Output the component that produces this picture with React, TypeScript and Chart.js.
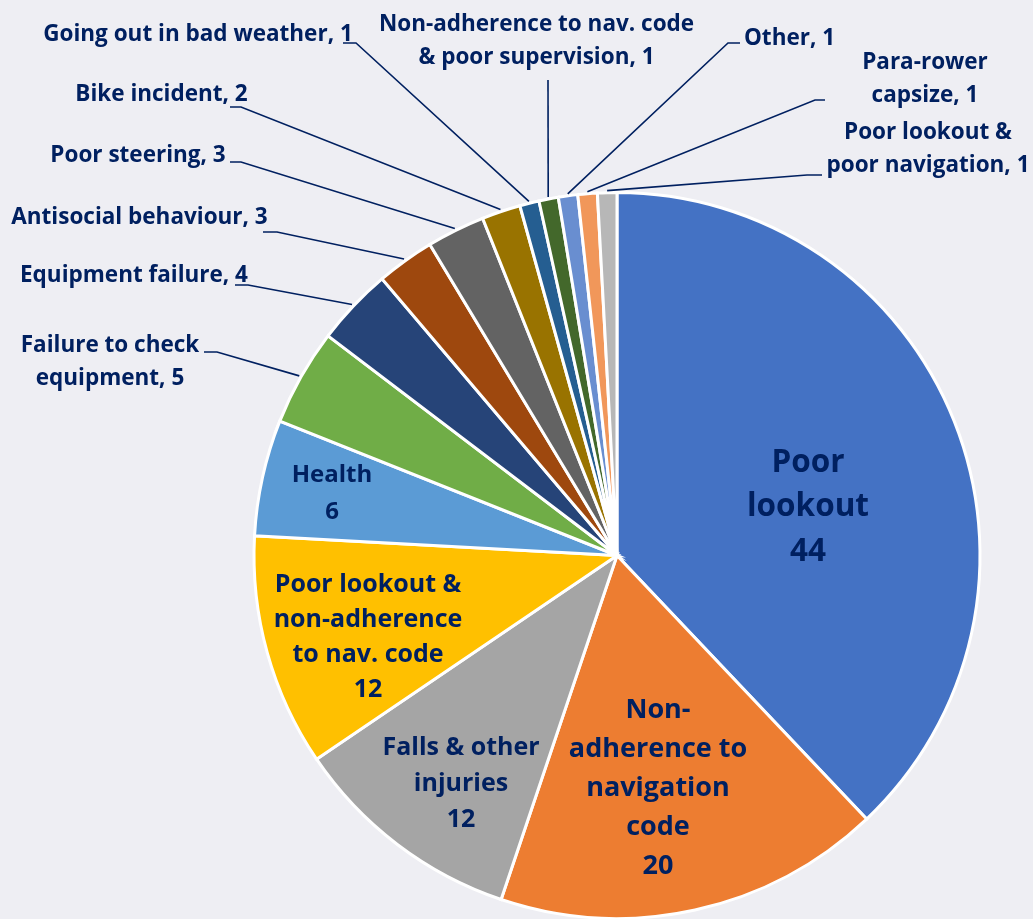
import React, { useEffect, useRef } from "react";
import { Chart, registerables } from "chart.js";

Chart.register(...registerables);

const categories = [
  "Poor lookout",
  "Non-adherence to navigation code",
  "Falls & other injuries",
  "Poor lookout & non-adherence to nav. code",
  "Health",
  "Failure to check equipment",
  "Equipment failure",
  "Antisocial behaviour",
  "Poor steering",
  "Bike incident",
  "Going out in bad weather",
  "Non-adherence to nav. code & poor supervision",
  "Other",
  "Para-rower capsize",
  "Poor lookout & poor navigation",
];

const incidents = [44, 20, 12, 12, 6, 5, 4, 3, 3, 2, 1, 1, 1, 1, 1];

const sliceColors = [
  "#4472C4",
  "#ED7D31",
  "#A5A5A5",
  "#FFC000",
  "#5B9BD5",
  "#70AD47",
  "#264478",
  "#9E480E",
  "#636363",
  "#997300",
  "#255E91",
  "#43682B",
  "#698ED0",
  "#F1975A",
  "#B7B7B7",
];

// Label text lines (value appended from data)
const insideLabelLines: Record<number, string[]> = {
  0: ["Poor", "lookout"],
  1: ["Non-", "adherence to", "navigation", "code"],
  2: ["Falls & other", "injuries"],
  3: ["Poor lookout &", "non-adherence", "to nav. code"],
  4: ["Health"],
};

const outsideLabelLines: Record<number, string[]> = {
  5: ["Failure to check", "equipment, "],
  6: ["Equipment failure, "],
  7: ["Antisocial behaviour, "],
  8: ["Poor steering, "],
  9: ["Bike incident, "],
  10: ["Going out in bad weather, "],
  11: ["Non-adherence to nav. code", "& poor supervision, "],
  12: ["Other, "],
  13: ["Para-rower", "capsize, "],
  14: ["Poor lookout &", "poor navigation, "],
};

// Layout (positions of label text relative to pie centre, font sizes)
const insideLayout: Record<number, { dx: number; dy: number; size: number; lh: number }> = {
  0: { dx: 191, dy: -50.5, size: 31.5, lh: 44.5 },
  1: { dx: 41, dy: 230, size: 27, lh: 39 },
  2: { dx: -156, dy: 226, size: 25, lh: 36 },
  3: { dx: -249, dy: 79, size: 25, lh: 35 },
  4: { dx: -285, dy: -64, size: 24, lh: 37 },
};

// absolute canvas positions for outside labels: text centre x, first line y, and the elbow of the leader line
const outsideLayout: Record<number, { x: number; y: number; near: [number, number]; far: [number, number] }> = {
  5: { x: 110, y: 343, near: [217, 352], far: [204, 352] },
  6: { x: 134, y: 273, near: [248, 285], far: [235, 285] },
  7: { x: 139.5, y: 215, near: [277, 232], far: [263, 232] },
  8: { x: 138, y: 153, near: [241, 162], far: [230, 162] },
  9: { x: 161.5, y: 92, near: [241, 107], far: [230, 107] },
  10: { x: 198, y: 32, near: [356, 43], far: [343, 43] },
  11: { x: 536.5, y: 22, near: [548, 80], far: [548, 80] },
  12: { x: 789.5, y: 36, near: [728, 43], far: [740, 43] },
  13: { x: 925, y: 60, near: [815, 100], far: [825, 100] },
  14: { x: 928, y: 130, near: [807, 175], far: [822, 175] },
};

const OUTSIDE_FONT = 22.5;
const OUTSIDE_LH = 33.5;
const TEXT_DY = 2.5;
const TEXT_COLOR = "#002060";
const FONT_FAMILY = "'Open Sans', Lato, sans-serif";

const labelPlugin = {
  id: "pieLabels",
  afterDatasetsDraw(chart: any) {
    const ctx = chart.ctx as CanvasRenderingContext2D;
    const meta = chart.getDatasetMeta(0);
    const data = chart.data.datasets[0].data as number[];
    ctx.save();
    ctx.fillStyle = TEXT_COLOR;
    ctx.strokeStyle = TEXT_COLOR;
    ctx.textAlign = "center";
    ctx.textBaseline = "middle";
    meta.data.forEach((arc: any, i: number) => {
      const p = arc.getProps(["x", "y", "startAngle", "endAngle", "outerRadius"], true);
      if (insideLabelLines[i]) {
        const lay = insideLayout[i];
        const lines = [...insideLabelLines[i], String(data[i])];
        ctx.font = `bold ${lay.size}px ${FONT_FAMILY}`;
        const cx = p.x + lay.dx;
        const cy = p.y + lay.dy + TEXT_DY;
        const top = cy - ((lines.length - 1) * lay.lh) / 2;
        lines.forEach((t, k) => ctx.fillText(t, cx, top + k * lay.lh));
      } else if (outsideLabelLines[i]) {
        const lay = outsideLayout[i];
        const src = outsideLabelLines[i];
        const lines = src.map((t, k) => (k === src.length - 1 ? t + String(data[i]) : t));
        ctx.font = `bold ${OUTSIDE_FONT}px ${FONT_FAMILY}`;
        lines.forEach((t, k) => ctx.fillText(t, lay.x, lay.y + TEXT_DY + k * OUTSIDE_LH));
        const mid = (p.startAngle + p.endAngle) / 2;
        const r = p.outerRadius + 2;
        const ex = p.x + Math.cos(mid) * r;
        const ey = p.y + Math.sin(mid) * r;
        ctx.lineWidth = 1.6;
        ctx.beginPath();
        ctx.moveTo(ex, ey);
        ctx.lineTo(lay.near[0], lay.near[1]);
        ctx.lineTo(lay.far[0], lay.far[1]);
        ctx.stroke();
      }
    });
    ctx.restore();
  },
};

export default function App() {
  const ref = useRef<HTMLCanvasElement | null>(null);
  useEffect(() => {
    if (!ref.current) return;
    const chart = new Chart(ref.current, {
      type: "pie",
      data: {
        labels: categories,
        datasets: [
          {
            data: incidents,
            backgroundColor: sliceColors,
            borderColor: "#FFFFFF",
            borderWidth: 3,
            borderJoinStyle: "miter",
          } as any,
        ],
      },
      options: {
        animation: false,
        responsive: false,
        devicePixelRatio: 1,
        radius: 363,
        layout: { padding: { left: 251, right: 50, top: 192, bottom: 0 } },
        plugins: {
          legend: { display: false },
          tooltip: { enabled: false },
        },
      } as any,
      plugins: [labelPlugin],
    });
    return () => chart.destroy();
  }, []);
  return (
    <div
      style={{
        position: "absolute",
        left: 0,
        top: 0,
        width: 1033,
        height: 919,
        background: "#EEEEF3",
      }}
    >
      <canvas ref={ref} width={1033} height={919} style={{ display: "block" }} />
    </div>
  );
}
